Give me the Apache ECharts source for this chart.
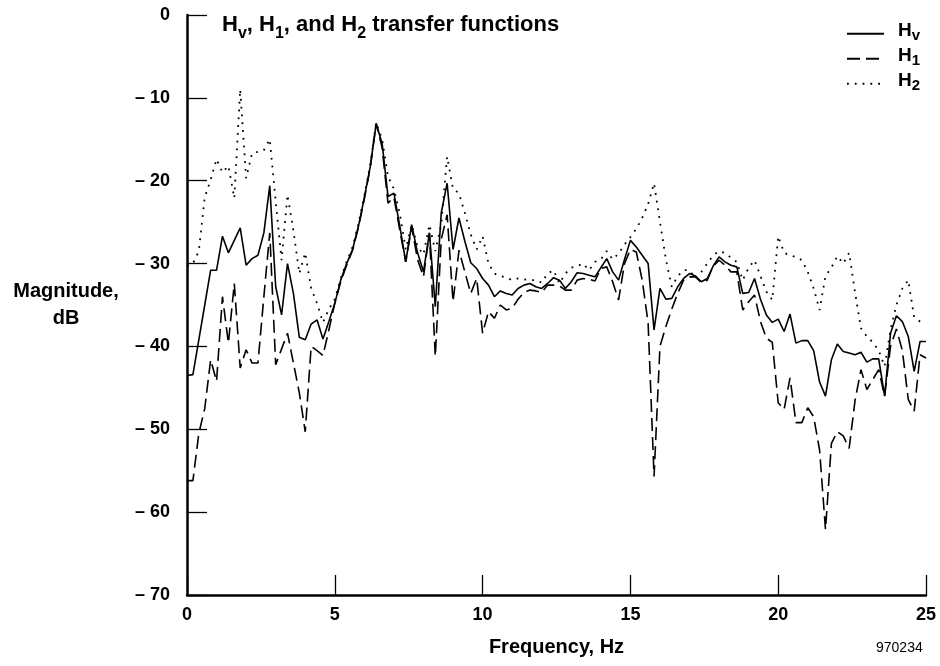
<!DOCTYPE html>
<html>
<head>
<meta charset="utf-8">
<script src="https://cdn.jsdelivr.net/npm/echarts@6/dist/echarts.min.js"></script>
<style>
html,body{margin:0;padding:0;background:#fff;}
#chart{width:940px;height:666px;}
</style>
</head>
<body>
<div id="chart"></div>
<script>
// Frequency grid (Hz)
const freq = [
0.0,0.2,0.4,0.6,0.8,1.0,1.2,1.4,1.6,1.8,2.0,2.2,2.4,2.6,2.8,3.0,3.2,3.4,3.6,3.8,
4.0,4.2,4.4,4.6,4.8,5.0,5.2,5.4,5.6,5.8,6.0,6.2,6.4,6.6,6.8,7.0,7.2,7.4,7.6,7.8,
8.0,8.2,8.4,8.6,8.8,9.0,9.2,9.4,9.6,9.8,10.0,10.2,10.4,10.6,10.8,11.0,11.2,11.4,11.6,11.8,
12.0,12.2,12.4,12.6,12.8,13.0,13.2,13.4,13.6,13.8,14.0,14.2,14.4,14.6,14.8,15.0,15.2,15.4,15.6,15.8,
16.0,16.2,16.4,16.6,16.8,17.0,17.2,17.4,17.6,17.8,18.0,18.2,18.4,18.6,18.8,19.0,19.2,19.4,19.6,19.8,
20.0,20.2,20.4,20.6,20.8,21.0,21.2,21.4,21.6,21.8,22.0,22.2,22.4,22.6,22.8,23.0,23.2,23.4,23.6,23.8,
24.0,24.2,24.4,24.6,24.8,25.0
];

// Magnitude, dB
const hv = [
-43.5,-43.4,-39.2,-35.0,-30.8,-30.8,-26.7,-28.7,-27.2,-25.7,-30.2,-29.4,-29.0,-26.3,-20.6,-32.8,-36.2,-30.0,-33.6,-38.9,
-39.2,-37.3,-36.8,-39.1,-37.0,-34.8,-32.0,-30.0,-28.3,-25.5,-22.0,-18.3,-13.1,-15.5,-21.9,-21.5,-25.5,-29.8,-25.3,-28.7,
-31.0,-26.3,-35.2,-23.9,-20.3,-28.3,-24.5,-27.3,-29.9,-30.6,-31.8,-32.6,-34.0,-33.3,-33.6,-33.8,-33.0,-32.6,-32.4,-32.8,
-33.0,-32.4,-31.7,-32.0,-33.0,-32.2,-31.1,-31.2,-31.4,-31.6,-30.5,-29.4,-31.0,-32.0,-29.5,-27.2,-28.0,-29.0,-30.0,-38.0,
-33.0,-34.3,-34.2,-32.8,-31.8,-31.2,-31.5,-32.2,-31.8,-30.3,-29.2,-29.8,-30.2,-30.4,-33.6,-33.5,-31.8,-34.3,-36.2,-37.1,
-36.7,-38.2,-36.1,-39.6,-39.3,-39.3,-40.5,-44.3,-46.0,-41.6,-39.7,-40.6,-40.8,-41.0,-40.7,-41.9,-41.5,-41.5,-46.0,-38.4,
-36.3,-37.0,-38.8,-43.0,-39.4,-39.4
];

const h1 = [
-56.2,-56.2,-50.5,-47.5,-41.6,-44.2,-34.0,-39.6,-32.4,-42.6,-40.4,-42.0,-42.0,-34.0,-26.3,-42.2,-40.3,-38.4,-42.0,-45.6,
-50.3,-40.0,-40.5,-41.1,-38.0,-34.8,-32.2,-30.2,-28.4,-25.6,-22.2,-18.4,-13.1,-16.0,-22.7,-22.0,-26.0,-29.8,-25.6,-29.5,
-31.6,-26.3,-41.2,-27.1,-24.1,-34.6,-28.4,-31.0,-33.6,-31.8,-38.4,-35.8,-36.6,-35.0,-35.6,-35.4,-34.3,-33.5,-33.2,-33.3,
-33.5,-32.6,-32.6,-32.7,-33.2,-33.2,-32.0,-31.8,-31.9,-32.1,-30.6,-30.4,-32.2,-34.4,-30.0,-28.3,-28.6,-32.0,-37.2,-55.7,
-40.0,-37.6,-35.5,-33.6,-32.0,-31.6,-31.6,-32.3,-32.0,-30.3,-29.6,-30.2,-31.0,-31.0,-35.6,-34.6,-33.8,-37.0,-39.0,-39.5,
-46.8,-47.6,-43.8,-49.2,-49.2,-47.4,-48.5,-52.5,-62.1,-51.7,-50.3,-50.8,-52.3,-46.5,-42.8,-45.2,-44.0,-42.8,-46.0,-40.0,
-37.9,-40.5,-46.4,-47.8,-41.0,-41.4
];

const h2 = [
-30.3,-30.0,-28.5,-22.0,-19.9,-17.4,-19.0,-18.2,-22.1,-9.0,-19.7,-16.7,-16.5,-16.3,-15.0,-22.5,-29.6,-21.7,-26.0,-31.2,
-28.7,-33.0,-34.8,-37.1,-35.5,-34.3,-31.8,-29.8,-28.0,-25.2,-21.8,-18.0,-13.0,-15.0,-19.5,-21.0,-24.0,-28.3,-25.3,-28.0,
-28.9,-25.3,-28.5,-25.3,-17.1,-21.0,-21.5,-23.9,-26.5,-28.3,-26.7,-30.0,-31.2,-31.5,-31.7,-32.0,-31.8,-31.9,-32.0,-32.0,
-32.3,-31.2,-30.8,-32.4,-31.2,-30.5,-30.3,-30.0,-30.8,-29.8,-29.5,-28.5,-29.5,-28.8,-27.7,-26.8,-25.8,-24.5,-22.8,-20.3,
-25.0,-29.5,-32.8,-31.5,-30.8,-30.8,-31.8,-31.0,-30.0,-29.0,-28.5,-28.7,-29.3,-29.8,-32.0,-30.5,-29.6,-31.5,-33.4,-34.4,
-26.7,-28.7,-29.0,-29.2,-29.6,-31.0,-33.0,-35.6,-31.5,-30.5,-29.1,-30.0,-28.7,-33.5,-37.8,-38.8,-39.5,-40.5,-42.4,-38.0,
-35.0,-33.0,-32.0,-36.5,-37.0,-37.2
];

const seriesNames = ['Hv', 'H1', 'H2'];
const subs = {Hv: 'v', H1: '1', H2: '2'};

const FONT = '"Liberation Sans", Arial, Helvetica, sans-serif';

function pairs(vals) { return freq.map((f, i) => [f, vals[i]]); }

const chart = echarts.init(document.getElementById('chart'), null, {renderer: 'canvas'});

const option = {
  backgroundColor: '#fff',
  animation: false,
  title: {
    text: '{b|H}{s|v}{b|, H}{s|1}{b|, and H}{s|2}{b| transfer functions}',
    left: 222,
    top: 20,
    padding: 0,
    textStyle: {rich: {
      b: {fontFamily: FONT, fontWeight: 'bold', fontSize: 22, color: '#000', verticalAlign: 'bottom', lineHeight: 22, padding: [0, 0, 6, 0]},
      s: {fontFamily: FONT, fontWeight: 'bold', fontSize: 16, color: '#000', verticalAlign: 'bottom', lineHeight: 16}
    }}
  },
  legend: {
    orient: 'vertical',
    left: 846,
    top: 18,
    padding: 0,
    itemGap: 0,
    itemWidth: 37,
    itemHeight: 14,
    selectedMode: false,
    data: seriesNames,
    itemStyle: {opacity: 0},
    formatter: function (name) { return '{b|H}{s|' + subs[name] + '}'; },
    textStyle: {
      padding: [0, 0, 0, 9],
      rich: {
        b: {fontFamily: FONT, fontWeight: 'bold', fontSize: 19, color: '#000', verticalAlign: 'bottom', lineHeight: 18.5, padding: [3, 0, 3, 0]},
        s: {fontFamily: FONT, fontWeight: 'bold', fontSize: 15, color: '#000', verticalAlign: 'bottom', lineHeight: 15}
      }
    }
  },
  grid: {left: 187, right: 14, top: 15, bottom: 71, containLabel: false},
  xAxis: {
    type: 'value',
    min: 0, max: 25, interval: 5,
    name: 'Frequency, Hz',
    nameLocation: 'middle',
    nameGap: 42,
    nameTextStyle: {fontFamily: FONT, fontWeight: 'bold', fontSize: 20, color: '#000'},
    axisLine: {show: true, onZero: false, lineStyle: {color: '#000', width: 2.5}},
    axisTick: {show: true, inside: true, length: 20, lineStyle: {color: '#000', width: 1.3}},
    axisLabel: {fontFamily: FONT, fontWeight: 'bold', fontSize: 18, color: '#000', margin: 11},
    splitLine: {show: false}
  },
  yAxis: {
    type: 'value',
    min: -70, max: 0, interval: 10,
    name: 'Magnitude,\ndB',
    nameLocation: 'middle',
    nameRotate: 0,
    nameGap: 121,
    nameTextStyle: {fontFamily: FONT, fontWeight: 'bold', fontSize: 20, color: '#000', align: 'center', lineHeight: 27, padding: [8, 0, 0, 0]},
    axisLine: {show: true, onZero: false, lineStyle: {color: '#000', width: 2.5}},
    axisTick: {show: true, inside: true, length: 20, lineStyle: {color: '#000', width: 1.3}},
    axisLabel: {
      fontFamily: FONT, fontWeight: 'bold', fontSize: 18, color: '#000', margin: 17,
      formatter: function (v) { return v === 0 ? '0' : '\u2013 ' + Math.abs(v); }
    },
    splitLine: {show: false}
  },
  graphic: [{
    type: 'text',
    left: 876,
    top: 641,
    style: {text: '970234', fontFamily: FONT, fontSize: 14, fill: '#000'}
  }],
  series: [
    {name: 'Hv', type: 'line', symbol: 'none', data: pairs(hv),
     lineStyle: {color: '#000', width: 1.6, type: 'solid'}, itemStyle: {color: '#000'}},
    {name: 'H1', type: 'line', symbol: 'none', data: pairs(h1),
     lineStyle: {color: '#000', width: 1.6, type: [13, 6]}, itemStyle: {color: '#000'}},
    {name: 'H2', type: 'line', symbol: 'none', data: pairs(h2),
     lineStyle: {color: '#000', width: 1.8, type: [1.8, 6]}, itemStyle: {color: '#000'}}
  ]
};

chart.setOption(option);
</script>
</body>
</html>
